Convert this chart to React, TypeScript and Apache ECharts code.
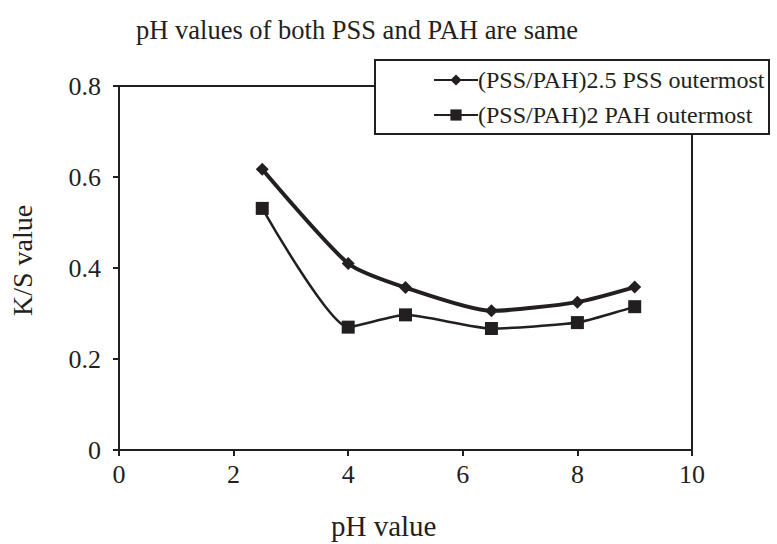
import React, { useEffect, useRef } from "react";
import * as echarts from "echarts";

const titleText = "pH values of both PSS and PAH are same";
const xName = "pH value";
const yName = "K/S value";
const seriesNames = ["(PSS/PAH)2.5 PSS outermost", "(PSS/PAH)2 PAH outermost"];
const phValues = [2.5, 4, 5, 6.5, 8, 9];
const pssOutermost = [0.617, 0.41, 0.357, 0.306, 0.325, 0.358];
const pahOutermost = [0.531, 0.27, 0.297, 0.267, 0.28, 0.315];

const FONT = "'Liberation Serif', 'Times New Roman', serif";

export default function App() {
  const ref = useRef<HTMLDivElement>(null);
  useEffect(() => {
    if (!ref.current) return;
    const chart = echarts.init(ref.current, undefined, { renderer: "svg" });
    const toPairs = (ys: number[]) => phValues.map((x, i) => [x, ys[i]]);
    chart.setOption({
      animation: false,
      backgroundColor: "#ffffff",
      textStyle: { fontFamily: FONT, color: "#231f20" },
      grid: {
        left: 119,
        right: 85,
        top: 86,
        bottom: 94,
        show: true,
        borderColor: "#231f20",
        borderWidth: 2,
        backgroundColor: "transparent",
      },
      xAxis: {
        type: "value",
        min: 0,
        max: 10,
        interval: 2,
        axisLine: { lineStyle: { color: "#231f20", width: 2 } },
        axisTick: { show: true, inside: false, length: 6, lineStyle: { color: "#231f20", width: 2 } },
        axisLabel: { fontFamily: FONT, fontSize: 26, color: "#231f20", margin: 11 },
        splitLine: { show: false },
      },
      yAxis: {
        type: "value",
        min: 0,
        max: 0.8,
        interval: 0.2,
        axisLine: { lineStyle: { color: "#231f20", width: 2 } },
        axisTick: { show: true, inside: false, length: 6, lineStyle: { color: "#231f20", width: 2 } },
        axisLabel: {
          fontFamily: FONT,
          fontSize: 26,
          color: "#231f20",
          margin: 18,
          formatter: (v: number) => (v === 0 ? "0" : v.toFixed(1)),
        },
        splitLine: { show: false },
      },
      legend: {
        orient: "vertical",
        left: 433,
        top: 68,
        padding: 0,
        itemWidth: 44,
        itemHeight: 14,
        itemGap: 11,
        z: 10,
        textStyle: { fontFamily: FONT, fontSize: 24, color: "#231f20", padding: [0, 0, 0, -5] },
        data: seriesNames,
      },
      graphic: [
        {
          type: "rect",
          z: 9,
          shape: { x: 375, y: 60, width: 394, height: 74 },
          style: { fill: "#ffffff", stroke: "#231f20", lineWidth: 2 },
        },
        {
          type: "text",
          left: 136,
          top: 16,
          style: { text: titleText, font: `26.5px ${FONT}`, fill: "#231f20" },
        },
        {
          type: "text",
          left: 331,
          top: 511,
          style: { text: xName, font: `29px ${FONT}`, fill: "#231f20" },
        },
        {
          type: "text",
          x: 8,
          y: 316,
          rotation: Math.PI / 2,
          style: { text: yName, font: `28px ${FONT}`, fill: "#231f20" },
        },
      ],
      series: [
        {
          name: seriesNames[0],
          type: "line",
          data: toPairs(pssOutermost),
          smooth: 0.22,
          symbol: "diamond",
          symbolSize: 13,
          lineStyle: { color: "#231f20", width: 4 },
          itemStyle: { color: "#231f20" },
        },
        {
          name: seriesNames[1],
          type: "line",
          data: toPairs(pahOutermost),
          smooth: 0.18,
          symbol: "rect",
          symbolSize: 13,
          lineStyle: { color: "#231f20", width: 2.5 },
          itemStyle: { color: "#231f20" },
        },
      ],
    });
    return () => chart.dispose();
  }, []);
  return <div ref={ref} style={{ width: 777, height: 544, position: "absolute", left: 0, top: 0 }} />;
}
